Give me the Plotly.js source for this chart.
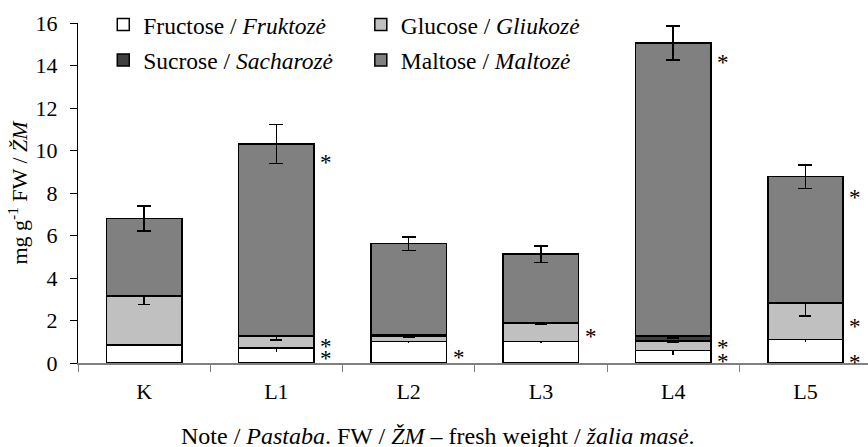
<!DOCTYPE html>
<html>
<head>
<meta charset="utf-8">
<script src="https://cdn.plot.ly/plotly-3.0.1.min.js"></script>
<style>
  html, body { margin: 0; padding: 0; background: #fff; }
  #chart { width: 868px; height: 447px; }
</style>
</head>
<body>
<div id="chart"></div>
<script>
// Sugar content per variant, mg g-1 fresh weight (stacked components)
const categories = ['K', 'L1', 'L2', 'L3', 'L4', 'L5'];

const fructose    = [0.85, 0.70, 1.02, 1.02, 0.58, 1.10];
const glucose     = [2.28, 0.57, 0.26, 0.87, 0.45, 1.70];
const sucrose     = [0.02, 0.03, 0.03, 0.02, 0.25, 0.02];
const maltose     = [3.65, 9.00, 4.31, 3.21, 13.77, 5.95];

// Error bar half-lengths for each component
const fructoseErr = [0.03, 0.17, 0.08, 0.06, 0.19, 0.13];
const glucoseErr  = [0.38, 0.20, 0.07, 0.05, 0.05, 0.59];
const sucroseErr  = [0.02, 0.02, 0.06, 0.06, 0.10, 0.02];
const maltoseErr  = [0.59, 0.92, 0.32, 0.39, 0.80, 0.55];

// Significance marks (*) beside the bars
const starCats = ['L1', 'L1', 'L1', 'L2', 'L3', 'L4', 'L4', 'L4', 'L5', 'L5', 'L5'];
const starY    = [9.65, 1.03, 0.47, 0.48, 1.47, 14.38, 0.95, 0.30, 8.04, 1.94, 0.27];

const serif = 'Liberation Serif, Times New Roman, Times, serif';
const outline = { color: '#000000', width: 1.5 };

function series(name, values, errs, fill, capWidth, legendId) {
  return {
    type: 'bar',
    name: name,
    x: categories,
    y: values,
    legend: legendId,
    legendgroup: name,
    marker: { color: fill, line: outline },
    error_y: {
      type: 'data', array: errs, visible: true,
      color: '#000000', thickness: 1.6, width: capWidth
    },
    hoverinfo: 'x+y+name'
  };
}

const traces = [
  series('Fructose / <i>Fruktozė</i>', fructose, fructoseErr, '#ffffff', 0, 'legend'),
  series('Glucose / <i>Gliukozė</i>', glucose, glucoseErr, '#c0c0c0', 6, 'legend2'),
  series('Sucrose / <i>Sacharozė</i>', sucrose, sucroseErr, '#404040', 6, 'legend'),
  series('Maltose / <i>Maltozė</i>', maltose, maltoseErr, '#808080', 7, 'legend2')
];

const stars = starCats.map((c, i) => ({
  x: c, y: starY[i], xref: 'x', yref: 'y',
  text: '*', showarrow: false, xshift: 50, yshift: -5,
  font: { family: serif, size: 23, color: '#000' }
}));

const legendBase = {
  orientation: 'v', xanchor: 'left', yanchor: 'top',
  bgcolor: 'rgba(0,0,0,0)', borderwidth: 0,
  font: { family: serif, size: 23.5, color: '#000' },
  traceorder: 'grouped', tracegroupgap: 2
};

const layout = {
  width: 868,
  height: 447,
  margin: { l: 78, r: 0, t: 23, b: 84 },
  paper_bgcolor: '#ffffff',
  plot_bgcolor: '#ffffff',
  barmode: 'stack',
  bargap: 0.43,
  font: { family: serif, size: 22, color: '#000' },
  showlegend: true,
  legend: Object.assign({}, legendBase, { x: 0.032, y: 1.06 }),
  legend2: Object.assign({}, legendBase, { x: 0.358, y: 1.06 }),
  xaxis: {
    type: 'category',
    range: [-0.5, 5.473],
    showline: true, linecolor: '#808080', linewidth: 2,
    ticks: 'outside', tickson: 'boundaries', ticklen: 7, tickcolor: '#808080', tickwidth: 1,
    ticklabelstandoff: 8,
    showgrid: false, zeroline: false,
    tickfont: { family: serif, size: 22, color: '#000' }
  },
  yaxis: {
    range: [0, 16], dtick: 2,
    showline: true, linecolor: '#000000', linewidth: 1,
    ticks: 'outside', ticklen: 7, tickcolor: '#000000', tickwidth: 1,
    ticklabelstandoff: 8,
    showgrid: false, zeroline: false,
    tickfont: { family: serif, size: 22, color: '#000' },
    title: {
      text: 'mg g<sup>-1</sup> FW / <i>ŽM</i>',
      font: { family: serif, size: 22, color: '#000' },
      standoff: 1
    }
  },
  annotations: stars.concat([{
    xref: 'paper', yref: 'paper', x: 0.456, y: -0.2147,
    xanchor: 'center', yanchor: 'middle', showarrow: false,
    text: 'Note / <i>Pastaba</i>. FW / <i>ŽM</i> – fresh weight / <i>žalia masė</i>.',
    font: { family: serif, size: 24, color: '#000' }
  }])
};

Plotly.newPlot('chart', traces, layout, { displayModeBar: false, staticPlot: true });
</script>
</body>
</html>
